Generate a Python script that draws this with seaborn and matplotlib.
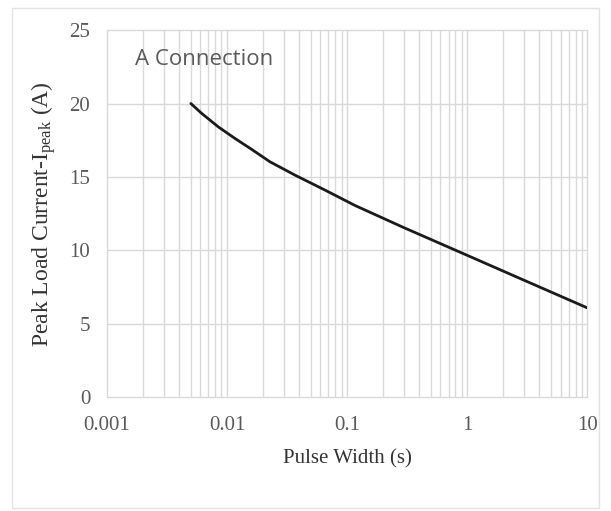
import matplotlib
matplotlib.use("Agg")
import matplotlib.pyplot as plt
import seaborn as sns
import pandas as pd
from matplotlib.patches import Rectangle
from matplotlib.ticker import NullFormatter

# Data
pulse_width = [0.005, 0.00615, 0.00846, 0.01166, 0.0161, 0.0228, 0.0369, 0.0656,
               0.1167, 0.3, 1, 3, 10]
peak_current = [20.0, 19.33, 18.41, 17.62, 16.87, 16.03, 15.12, 14.10,
                13.05, 11.53, 9.66, 7.95, 6.08]
x_ticks = [0.001, 0.01, 0.1, 1, 10]
x_tick_labels = ["0.001", "0.01", "0.1", "1", "10"]
y_ticks = [0, 5, 10, 15, 20, 25]
y_tick_labels = ["0", "5", "10", "15", "20", "25"]

sns.set_style("white")
plt.rcParams["font.family"] = ["Liberation Serif", "DejaVu Serif"]
plt.rcParams["mathtext.fontset"] = "custom"
plt.rcParams["mathtext.rm"] = "Liberation Serif"
plt.rcParams["mathtext.it"] = "Liberation Serif:italic"

df = pd.DataFrame({"Pulse Width": pulse_width, "Peak Current": peak_current})

fig = plt.figure(figsize=(6.11, 5.11), dpi=100)
ax = fig.add_axes([0.175, 0.223, 0.786, 0.718])

sns.lineplot(data=df, x="Pulse Width", y="Peak Current", ax=ax,
             color="#1a1a1a", linewidth=2.0, zorder=3)

ax.set_xscale("log")
ax.set_xlim(0.001, 10)
ax.set_ylim(0, 25)
ax.set_xticks(x_ticks)
ax.set_xticklabels(x_tick_labels)
ax.xaxis.set_minor_formatter(NullFormatter())
ax.set_yticks(y_ticks)
ax.set_yticklabels(y_tick_labels)

ax.grid(which="major", axis="both", color="#d9d9d9", linewidth=1.0, zorder=0)
ax.grid(which="minor", axis="x", color="#d9d9d9", linewidth=1.0, zorder=0)
for s in ax.spines.values():
    s.set_visible(False)
ax.tick_params(axis="both", which="both", length=0, labelsize=15, labelcolor="#595959")
ax.tick_params(axis="x", pad=14)
ax.tick_params(axis="y", pad=12)

for t in (ax.xaxis.get_major_ticks() + ax.xaxis.get_minor_ticks()
          + ax.yaxis.get_major_ticks()):
    t.gridline.set_clip_on(False)

ax.set_xlabel("Pulse Width (s)", fontsize=15, color="#333333", labelpad=10)
ax.set_ylabel(r"Peak Load Current-I$_{\mathrm{peak}}$ (A)", fontsize=17,
              color="#333333", labelpad=8)

ax.text(0.058, 0.92, "A Connection", transform=ax.transAxes, fontsize=16,
        color="#595959", family=["Open Sans", "DejaVu Sans"], va="center", ha="left")

fig.patches.append(Rectangle((0.02, 0.006), 0.96, 0.978, transform=fig.transFigure,
                             fill=False, edgecolor="#e3e3e3", linewidth=1.0))

fig.savefig("out.png", dpi=100, facecolor="white")
